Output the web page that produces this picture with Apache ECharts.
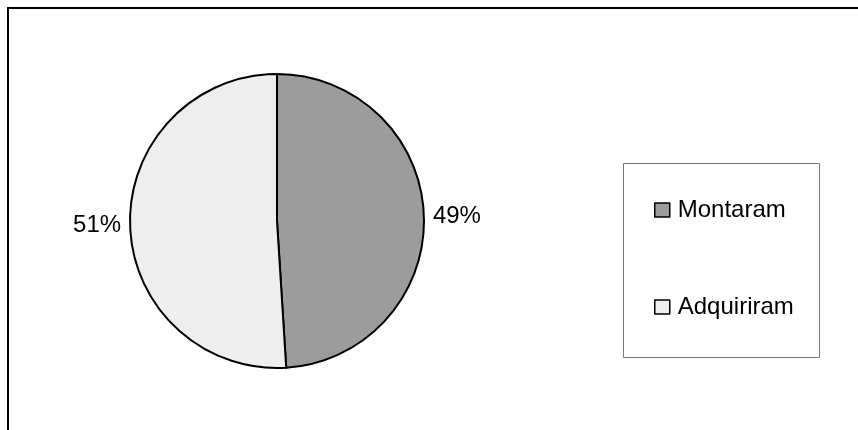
<!DOCTYPE html>
<html>
<head>
  <meta charset="utf-8">
  <script src="https://cdn.jsdelivr.net/npm/echarts@6/dist/echarts.min.js"></script>
  <style>
    html, body { margin: 0; padding: 0; background: #fff; }
  </style>
</head>
<body>
<div id="main" style="width:858px;height:430px;"></div>
<script type="text/javascript">
// data
var categories = ['Montaram', 'Adquiriram'];
var shares = [49, 51];
var sliceColors = ['#9c9c9c', '#eeeeee'];

var pieData = [];
for (var i = 0; i < categories.length; i++) {
  pieData.push({
    name: categories[i],
    value: shares[i],
    itemStyle: { color: sliceColors[i] }
  });
}

var font = 'Liberation Sans, Arial, sans-serif';
var myChart = echarts.init(document.getElementById('main'));

myChart.setOption({
  animation: false,
  backgroundColor: '#fff',
  graphic: [
    {
      // outer frame, only top and left sides show in the picture
      type: 'rect',
      shape: { x: 8, y: 8, width: 900, height: 500 },
      style: { fill: 'none', stroke: '#000', lineWidth: 2 }
    },
    {
      // legend box
      type: 'rect',
      shape: { x: 623.5, y: 163.5, width: 196, height: 194 },
      style: { fill: 'none', stroke: '#777', lineWidth: 1 }
    }
  ],
  legend: {
    orient: 'vertical',
    left: 649,
    top: 193,
    itemWidth: 15,
    itemHeight: 14,
    itemGap: 73,
    icon: 'rect',
    textStyle: {
      fontFamily: font, fontSize: 24, color: '#000', lineHeight: 24,
      padding: [0, 0, 0, 3]
    },
    itemStyle: { borderColor: '#000', borderWidth: 1.5 },
    data: categories
  },
  series: [
    {
      type: 'pie',
      center: [277, 221],
      radius: 147,
      startAngle: 90,
      clockwise: true,
      itemStyle: { borderColor: '#000', borderWidth: 2 },
      label: {
        show: true,
        position: 'outside',
        formatter: '{d}%',
        fontFamily: font,
        fontSize: 24,
        color: '#000'
      },
      labelLine: { show: false, length: 4, length2: 0 },
      emphasis: { disabled: true },
      data: pieData
    }
  ]
});
</script>
</body>
</html>
